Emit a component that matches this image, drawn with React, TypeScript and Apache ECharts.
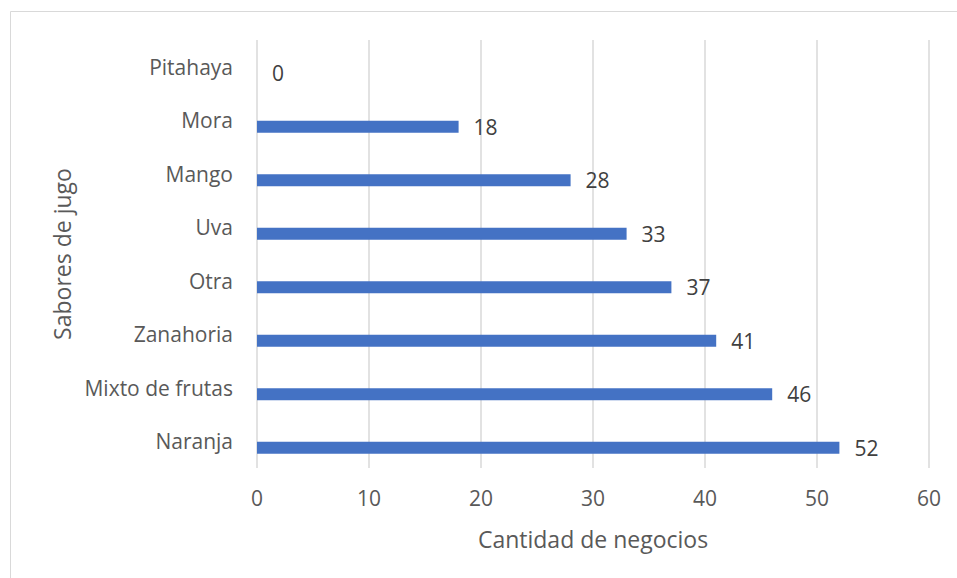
import React, { useEffect, useRef } from "react";
import * as echarts from "echarts";

const categories = ["Naranja", "Mixto de frutas", "Zanahoria", "Otra", "Uva", "Mango", "Mora", "Pitahaya"];
const values = [52, 46, 41, 37, 33, 28, 18, 0];
const emptySeries = categories.map(() => null);
const xMin = 0;
const xMax = 60;
const xInterval = 10;

const FONT = "'Open Sans', 'Noto Sans', sans-serif";
const TEXT = "#595959";

export default function App() {
  const ref = useRef<HTMLDivElement>(null);
  useEffect(() => {
    if (!ref.current) return;
    const chart = echarts.init(ref.current, null, { renderer: "svg" });
    chart.setOption({
      animation: false,
      backgroundColor: "#ffffff",
      textStyle: { fontFamily: FONT },
      graphic: [
        {
          type: "rect",
          shape: { x: 10.5, y: 11.5, width: 960, height: 600 },
          style: { fill: "none", stroke: "#D9D9D9", lineWidth: 1 },
          silent: true,
        },
      ],
      grid: { left: 257, right: 28, top: 40, bottom: 110, containLabel: false },
      xAxis: {
        type: "value",
        min: xMin,
        max: xMax,
        interval: xInterval,
        name: "Cantidad de negocios",
        nameLocation: "middle",
        nameGap: 59,
        nameTextStyle: { color: TEXT, fontSize: 23, fontFamily: FONT },
        axisLine: { show: false },
        axisTick: { show: false },
        axisLabel: { color: TEXT, fontSize: 21, fontFamily: FONT, margin: 19 },
        splitLine: { show: true, lineStyle: { color: "#D9D9D9", width: 1.5 } },
      },
      yAxis: {
        type: "category",
        data: categories,
        name: "Sabores de jugo",
        nameLocation: "middle",
        nameGap: 183,
        nameTextStyle: { color: TEXT, fontSize: 23, fontFamily: FONT },
        axisLine: { show: false },
        axisTick: { show: false },
        axisLabel: { color: TEXT, fontSize: 21, fontFamily: FONT, margin: 24 },
        splitLine: { show: false },
      },
      series: [
        {
          type: "bar",
          data: emptySeries,
          barWidth: 12,
          barGap: "8%",
          silent: true,
        },
        {
          type: "bar",
          data: values,
          barWidth: 12,
          barGap: "8%",
          itemStyle: { color: "#4472C4" },
          label: {
            show: true,
            position: "right",
            distance: 15,
            color: "#404040",
            fontSize: 21,
            fontFamily: FONT,
          },
        },
      ],
    });
    return () => chart.dispose();
  }, []);
  return (
    <div
      ref={ref}
      style={{ position: "fixed", left: 0, top: 0, width: 957, height: 578 }}
    />
  );
}
